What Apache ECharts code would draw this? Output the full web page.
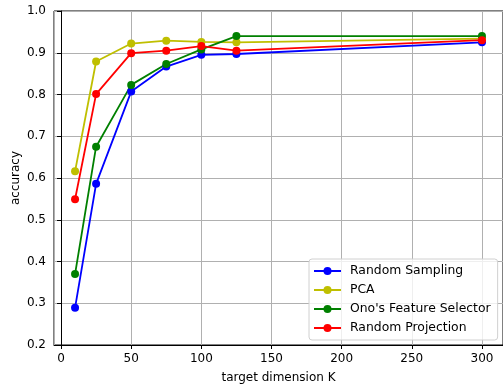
<!DOCTYPE html>
<html>
<head>
<meta charset="utf-8">
<script src="https://cdn.jsdelivr.net/npm/echarts@6/dist/echarts.min.js"></script>
<style>html,body{margin:0;padding:0;background:#fff}#c{width:503px;height:386px}</style>
</head>
<body>
<div id="c"></div>
<script>
const dims = [10, 25, 50, 75, 100, 125, 300];
const randomSampling = [0.289, 0.586, 0.807, 0.867, 0.895, 0.897, 0.925];
const pca = [0.616, 0.879, 0.922, 0.929, 0.926, 0.925, 0.934];
const onoSelector = [0.370, 0.675, 0.823, 0.873, 0.908, 0.940, 0.940];
const randomProjection = [0.549, 0.801, 0.899, 0.905, 0.916, 0.905, 0.930];
const seriesNames = ['Random Sampling', 'PCA', "Ono's Feature Selector", 'Random Projection'];
const seriesColors = ['#0000ff', '#bfbf00', '#008000', '#ff0000'];
const seriesValues = [randomSampling, pca, onoSelector, randomProjection];

const font = 'DejaVu Sans';
const chart = echarts.init(document.getElementById('c'), null, {renderer: 'canvas'});
chart.setOption({
  animation: false,
  backgroundColor: '#fff',
  grid: {left: 54, top: 11, right: 0, bottom: 41, show: true, borderColor: '#000', borderWidth: 1, containLabel: false, outerBoundsMode: 'none'},
  legend: {
    orient: 'vertical', left: 309, top: 259,
    itemWidth: 27, itemHeight: 10, itemGap: 7,
    padding: [6, 7, 6, 4],
    backgroundColor: 'rgba(255,255,255,0.8)', borderColor: '#d0d0d0', borderWidth: 1, borderRadius: 3,
    textStyle: {fontFamily: font, fontSize: 12.4, color: '#000', padding: [0, 0, 0, 4]},
    data: seriesNames
  },
  xAxis: {
    type: 'value', min: -5, max: 315, splitNumber: 7,
    name: 'target dimension K', nameLocation: 'middle', nameGap: 27, nameMoveOverlap: false,
    nameTextStyle: {fontFamily: font, fontSize: 12, color: '#000'},
    axisLine: {show: true, onZero: false, lineStyle: {color: '#000', width: 1}},
    axisTick: {show: true, inside: false, length: 4, lineStyle: {color: '#000'}},
    axisLabel: {fontFamily: font, fontSize: 12, color: '#000', margin: 8, showMinLabel: false, showMaxLabel: false},
    splitLine: {show: true, lineStyle: {color: '#b0b0b0', width: 1}}
  },
  yAxis: {
    type: 'value', min: 0.2, max: 1.0, interval: 0.1,
    name: 'accuracy', nameLocation: 'middle', nameGap: 32, nameRotate: 90, nameMoveOverlap: false,
    nameTextStyle: {fontFamily: font, fontSize: 12, color: '#000'},
    axisLine: {show: true, lineStyle: {color: '#000', width: 1}},
    axisTick: {show: true, inside: false, length: 4, lineStyle: {color: '#000'}},
    axisLabel: {fontFamily: font, fontSize: 12, color: '#000', margin: 8, formatter: v => v.toFixed(1)},
    splitLine: {show: true, lineStyle: {color: '#b0b0b0', width: 1}}
  },
  series: seriesNames.map((n, i) => ({
    name: n, type: 'line',
    data: dims.map((d, j) => [d, seriesValues[i][j]]),
    symbol: 'circle', symbolSize: 8, showSymbol: true,
    lineStyle: {color: seriesColors[i], width: 1.8},
    itemStyle: {color: seriesColors[i]},
    emphasis: {disabled: true}
  }))
});
</script>
</body>
</html>
